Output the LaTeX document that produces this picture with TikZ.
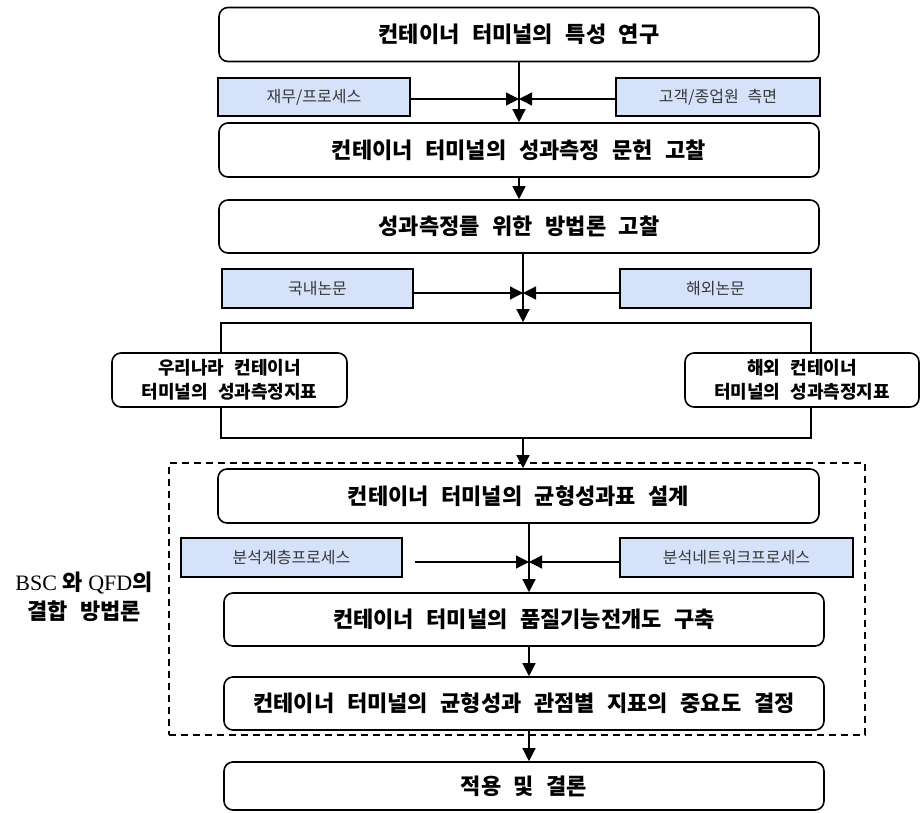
\documentclass[tikz,border=0pt]{standalone}
\usepackage{fontspec}
\setmainfont{Liberation Serif}
\newfontfamily\krfont[WordSpace=2.5]{Noto Sans CJK KR}
\usepackage{tikz}
\usetikzlibrary{arrows.meta,positioning,calc}
\definecolor{srcblue}{RGB}{214,225,250}
\definecolor{srctext}{RGB}{55,55,55}
\tikzset{
  sec/.style={rectangle,rounded corners=9pt,draw=black,line width=1.6pt,fill=white,
              minimum width=600pt,minimum height=54pt,inner sep=0pt,align=center,
              font=\fontsize{22}{26}\selectfont\krfont\bfseries},
  src/.style={rectangle,draw=black,line width=1.6pt,fill=srcblue,text=srctext,
              minimum height=38pt,inner sep=0pt,align=center,
              font=\fontsize{16}{19}\selectfont\krfont},
  idx/.style={rectangle,rounded corners=9pt,draw=black,line width=1.6pt,fill=white,
              minimum width=235pt,minimum height=54pt,inner sep=0pt,align=center,
              font=\fontsize{18}{24}\selectfont\krfont\bfseries},
  fl/.style={-{Triangle[length=13pt,width=13pt]},draw=black,line width=1.3pt},
}
\begin{document}
\begin{tikzpicture}[x=1pt,y=-1pt]
  \useasboundingbox (0,0) rectangle (924,812);
  % dashed zone of the combined method
  \node[draw=black,line width=1.3pt,dash pattern=on 7pt off 5pt,minimum width=696pt,
        minimum height=272pt,inner sep=0pt] (zone) at (517,599) {};
  \node[align=center,font=\fontsize{22}{29}\selectfont] (zonelbl) at (84,597)
       {BSC {\krfont\bfseries 와} QFD{\krfont\bfseries 의}\\{\krfont\bfseries 결합 방법론}};
  % main steps
  \node[sec] (sec1) at (519,34.5) {컨테이너 터미널의 특성 연구};
  \node[sec] (sec2) at (519,150)  {컨테이너 터미널의 성과측정 문헌 고찰};
  \node[sec,minimum height=53pt] (sec3) at (519,226.5) {성과측정를 위한 방법론 고찰};
  \node[rectangle,draw=black,line width=1.6pt,minimum width=590pt,minimum height=115pt,
        inner sep=0pt] (frame) at (516,380.5) {};
  \node[idx] (home)  at (229.5,380) {우리나라 컨테이너\\터미널의 성과측정지표};
  \node[idx,minimum width=234pt] (abroad) at (802,380) {해외 컨테이너\\터미널의 성과측정지표};
  \node[sec,minimum width=601pt] (sec4) at (518.5,496) {컨테이너 터미널의 균형성과표 설계};
  \node[sec,minimum height=53pt] (sec5) at (524,619.5) {컨테이너 터미널의 품질기능전개도 구축};
  \node[sec,minimum height=53pt] (sec6) at (524,703.5) {컨테이너 터미널의 균형성과 관점별 지표의 중요도 결정};
  \node[sec,minimum height=48pt] (sec7) at (524,786) {적용 및 결론};
  % side inputs
  \node[src,minimum width=192pt] (fin)  at (314,97)    {재무/프로세스};
  \node[src,minimum width=204pt] (cust) at (718,97)    {고객/종업원 측면};
  \node[src,minimum width=191pt,minimum height=39pt] (dom) at (317.5,288.5) {국내논문};
  \node[src,minimum width=191pt,minimum height=39pt] (for) at (715.5,288.5) {해외논문};
  \node[src,minimum width=221pt,minimum height=39pt] (ahp) at (291.5,557.5) {분석계층프로세스};
  \node[src,minimum width=233pt,minimum height=39pt] (anp) at (736.5,557.5) {분석네트워크프로세스};
  % junctions
  \coordinate (j1) at (519,99);
  \coordinate (j2) at (523,293);
  \coordinate (j3) at (529,562);
  \draw[fl] (sec1.south -| j1) -- (sec2.north -| j1);
  \draw[fl] (fin.east |- j1) -- (j1);
  \draw[fl] (cust.west |- j1) -- (j1);
  \draw[fl] (sec2.south -| j1) -- (sec3.north -| j1);
  \draw[fl] (sec3.south -| j2) -- (frame.north -| j2);
  \draw[fl] (dom.east |- j2) -- (j2);
  \draw[fl] (for.west |- j2) -- (j2);
  \draw[fl] (frame.south -| j2) -- (sec4.north -| j2);
  \draw[fl] (sec4.south -| j3) -- (sec5.north -| j3);
  \draw[fl,shorten <=12pt] (ahp.east |- j3) -- (j3);
  \draw[fl] (anp.west |- j3) -- (j3);
  \draw[fl] (sec5.south -| j3) -- (sec6.north -| j3);
  \draw[fl] (sec6.south -| j3) -- (sec7.north -| j3);
\end{tikzpicture}
\end{document}
